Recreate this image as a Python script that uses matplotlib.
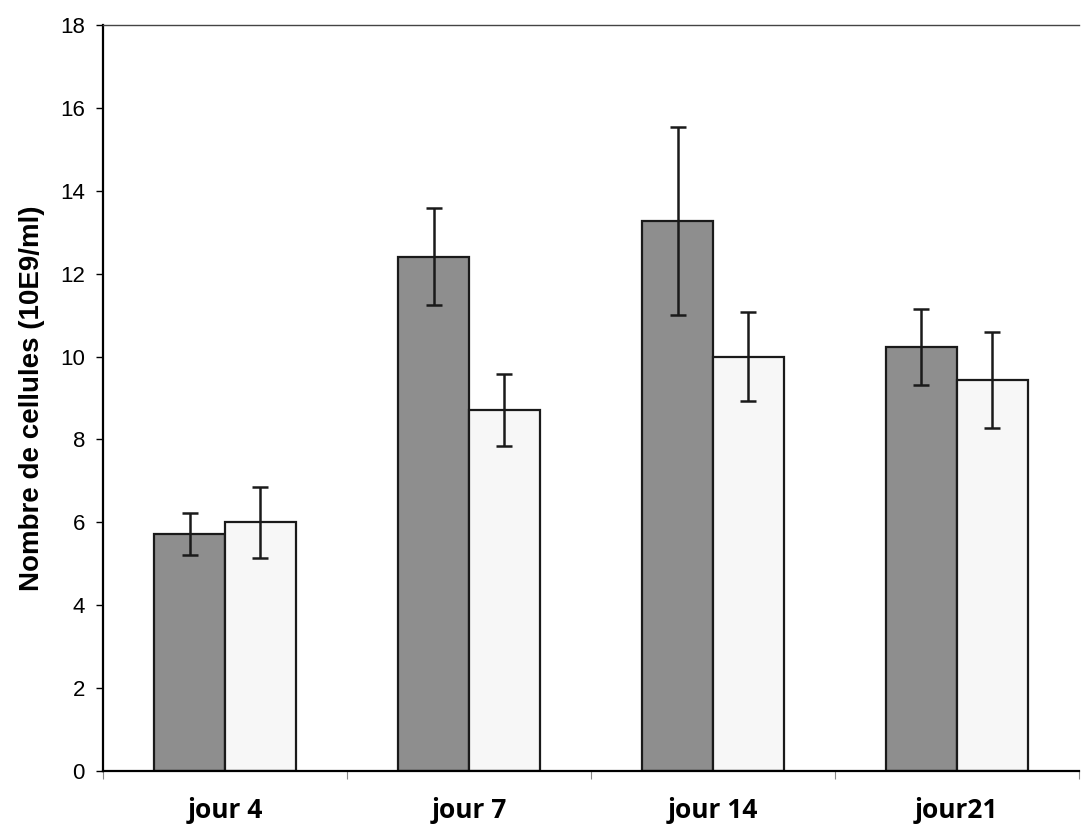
import numpy as np
import matplotlib.pyplot as plt

# donnees
jours = ["jour 4", "jour 7", "jour 14", "jour21"]
gris = [5.72, 12.41, 13.27, 10.23]
gris_err = [0.50, 1.17, 2.26, 0.91]
blanc = [6.0, 8.71, 10.0, 9.43]
blanc_err = [0.85, 0.86, 1.08, 1.15]

plt.rcParams['font.family'] = ['Liberation Sans', 'DejaVu Sans']

fig = plt.figure(figsize=(10.81, 8.31), dpi=100)
ax = fig.add_axes([0.0953, 0.0722, 0.9027, 0.8978])

x = np.arange(len(jours)) + 0.5
w = 0.29

ax.bar(x - w / 2, gris, w, color="#8e8e8e", edgecolor="#1a1a1a", linewidth=1.6, zorder=2)
ax.bar(x + w / 2, blanc, w, color="#f7f7f7", edgecolor="#1a1a1a", linewidth=1.6, zorder=2)
ax.errorbar(x - w / 2, gris, yerr=gris_err, fmt="none", ecolor="#1a1a1a",
            elinewidth=1.8, capsize=6, capthick=1.8, zorder=3)
ax.errorbar(x + w / 2, blanc, yerr=blanc_err, fmt="none", ecolor="#1a1a1a",
            elinewidth=1.8, capsize=6, capthick=1.8, zorder=3)

ax.set_xlim(0, 4)
ax.set_ylim(0, 18)
ax.set_yticks(range(0, 19, 2))
ax.tick_params(axis="y", labelsize=16, direction="out", length=5, width=1, pad=8)

ax.set_xticks(range(0, 5))
ax.set_xticklabels([])
ax.tick_params(axis="x", which="major", direction="out", length=6, width=0.8, color="#888888")
ax.set_xticks(x, minor=True)
ax.set_xticklabels(jours, minor=True, fontsize=19, fontweight="bold", family="Open Sans")
ax.tick_params(axis="x", which="minor", length=0, pad=19)

ax.set_ylabel("Nombre de cellules (10E9/ml)", fontsize=20, fontweight="bold", labelpad=11)

ax.spines["right"].set_visible(False)
ax.spines["left"].set_linewidth(1.6)
ax.spines["bottom"].set_linewidth(1.6)
ax.spines["top"].set_linewidth(1.0)
ax.spines["top"].set_color("#444444")

fig.savefig("out.png", dpi=100)
